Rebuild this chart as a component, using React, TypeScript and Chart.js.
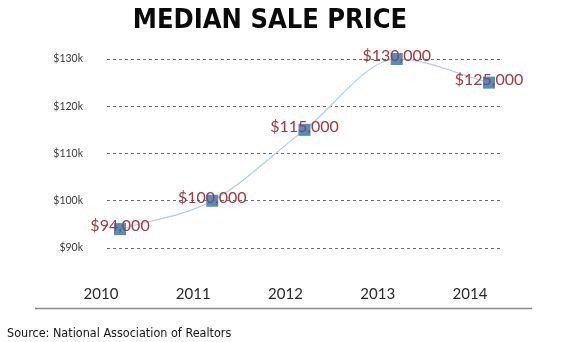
import React, { useEffect, useRef } from "react";
import { Chart, registerables } from "chart.js";

Chart.register(...registerables);

const years = [2010, 2011, 2012, 2013, 2014];
const prices = [94000, 100000, 115000, 130000, 125000];
const yTicks = [90000, 100000, 110000, 120000, 130000];
const titleText = "MEDIAN SALE PRICE";
const sourceText = "Source: National Association of Realtors";

const fmtMoney = (v: number) => "$" + v.toLocaleString("en-US");

const decorPlugin = {
  id: "decor",
  beforeDraw(chart: any) {
    const ctx = chart.ctx;
    ctx.save();
    ctx.fillStyle = "#ffffff";
    ctx.fillRect(0, 0, chart.width, chart.height);
    ctx.restore();
  },
  afterDraw(chart: any) {
    const ctx = chart.ctx;
    ctx.save();
    // title
    ctx.fillStyle = "#0a0a0a";
    ctx.font = "bold 27px 'DejaVu Sans Condensed', 'DejaVu Sans'";
    ctx.textAlign = "center";
    ctx.textBaseline = "alphabetic";
    ctx.fillText(titleText, 270, 28);
    // bottom rule
    ctx.strokeStyle = "#8a8a8a";
    ctx.lineWidth = 1.5;
    ctx.beginPath();
    ctx.moveTo(35, 308.5);
    ctx.lineTo(532, 308.5);
    ctx.stroke();
    // source
    ctx.fillStyle = "#151515";
    ctx.font = "12.5px 'DejaVu Sans Condensed', 'DejaVu Sans'";
    ctx.textAlign = "left";
    ctx.fillText(sourceText, 7, 337);
    ctx.restore();
  },
  afterDatasetsDraw(chart: any) {
    const ctx = chart.ctx;
    const meta = chart.getDatasetMeta(0);
    ctx.save();
    ctx.fillStyle = "#a23a40";
    ctx.font = "16px Lato";
    ctx.textAlign = "center";
    ctx.textBaseline = "middle";
    meta.data.forEach((pt: any, i: number) => {
      ctx.fillText(fmtMoney(prices[i]), pt.x, pt.y - 3);
    });
    ctx.restore();
  },
};

export default function App() {
  const ref = useRef<HTMLCanvasElement | null>(null);
  useEffect(() => {
    if (!ref.current) return;
    const chart = new Chart(ref.current, {
      type: "line",
      data: {
        datasets: [
          {
            data: years.map((y, i) => ({ x: y, y: prices[i] })),
            borderColor: "#add0e2",
            borderWidth: 1.2,
            cubicInterpolationMode: "monotone",
            pointStyle: "rect",
            pointRadius: 8.5,
            pointBackgroundColor: "#4f90c2",
            pointBorderWidth: 0,
            clip: false,
          },
        ],
      },
      options: {
        responsive: false,
        animation: false,
        layout: { padding: { left: 0, right: 68, top: 59, bottom: 0 } },
        plugins: { legend: { display: false }, tooltip: { enabled: false }, title: { display: false } },
        scales: {
          x: {
            type: "linear",
            min: 2009.859,
            max: 2014.141,
            afterBuildTicks: (scale: any) => {
              scale.ticks = years.map((v) => ({ value: v }));
            },
            afterFit: (scale: any) => {
              scale.height = 94;
            },
            grid: { display: false, drawTicks: false },
            border: { display: false },
            ticks: {
              padding: 37,
              labelOffset: -19,
              color: "#2a2a2a",
              font: { family: "Lato", size: 15 },
              callback: (v: any) => String(v),
            },
          },
          y: {
            min: 90000,
            max: 130000,
            afterBuildTicks: (scale: any) => {
              scale.ticks = yTicks.map((v) => ({ value: v }));
            },
            afterFit: (scale: any) => {
              scale.width = 107;
            },
            grid: { color: "#6a6a6a", lineWidth: 1, drawTicks: false },
            border: { display: false, dash: [3, 3] },
            ticks: {
              padding: 24,
              color: "#3a3a3a",
              font: { family: "Lato", size: 10.5 },
              callback: (v: any) => "$" + Math.round(Number(v) / 1000) + "k",
            },
          },
        },
      },
      plugins: [decorPlugin],
    });
    return () => chart.destroy();
  }, []);
  return (
    <div style={{ position: "fixed", left: 0, top: 0, width: 570, height: 342 }}>
      <canvas ref={ref} width={570} height={342} style={{ display: "block" }} />
    </div>
  );
}
